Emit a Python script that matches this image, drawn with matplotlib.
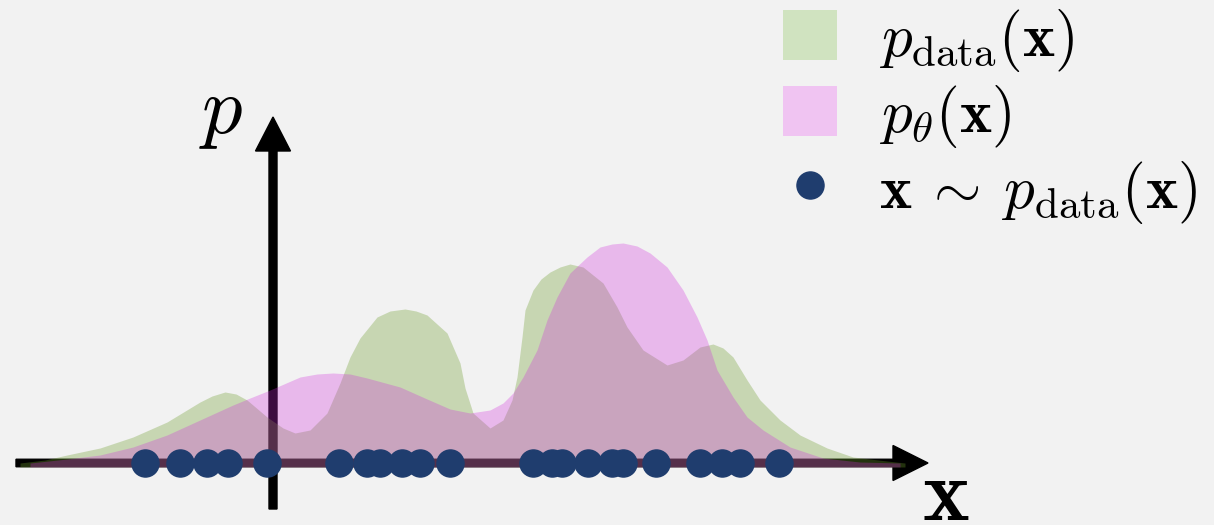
import numpy as np
import matplotlib.pyplot as plt
from matplotlib.patches import Patch
from matplotlib.lines import Line2D

plt.rcParams['mathtext.fontset'] = 'cm'

# densities (x relative to the p axis, height above the x axis)
green_x = [-253, -228, -206, -173, -140, -106, -73, -61, -48, -37, -26, -6, 10, 22, 37,
           54, 67, 77, 87, 104, 117, 132, 143, 154, 174, 187, 192, 200, 217, 230,
           239, 244, 249, 252, 260, 268, 277, 287, 297, 310, 330, 344, 354, 370, 394,
           410, 427, 440, 450, 460, 474, 487, 507, 527, 554, 580, 614, 632]
green_y = [0, 3, 8, 15, 26, 41, 61, 67, 71, 69, 63, 46, 35, 30, 33,
           50, 80, 106, 125, 146, 152, 154, 152, 148, 130, 100, 75, 50, 35, 43,
           63, 86, 126, 153, 173, 184, 191, 196, 199, 196, 180, 156, 136, 113, 98,
           103, 116, 119, 115, 106, 83, 63, 43, 28, 15, 6, 2, 0]

pink_x = [-243, -206, -173, -140, -106, -73, -40, -23, -3, 27, 44, 60, 77, 94, 127,
          154, 177, 197, 217, 230, 240, 250, 264, 274, 284, 297, 314, 327, 339, 350,
          364, 377, 394, 410, 424, 434, 444, 460, 474, 490, 517, 550, 587, 627]
pink_y = [0, 4, 8, 16, 28, 43, 58, 65, 73, 86, 89, 90, 89, 85, 76,
          64, 54, 50, 53, 60, 70, 86, 113, 143, 166, 190, 206, 216, 219, 220,
          217, 210, 196, 173, 146, 123, 93, 66, 46, 33, 16, 5, 1, 0]

# samples on the x axis
samples = [-128, -93, -66, -45, -6, 66, 94, 107, 129, 147, 177, 260, 279, 289,
           315, 339, 350, 383, 427, 449, 467, 506]

labels = [r'$p_{\mathrm{data}}(\mathbf{x})$', r'$p_\theta(\mathbf{x})$',
          r'$\mathbf{x} \:\sim\: p_{\mathrm{data}}(\mathbf{x})$']

bg = '#f2f2f2'
dot_color = '#1f3d6e'

fig = plt.figure(figsize=(12.14, 5.25), dpi=100, facecolor=bg)
ax = fig.add_axes([0, 0, 1, 1])
ax.set_facecolor(bg)
ax.set_xlim(-273, 941)
ax.set_ylim(-62, 463)
ax.axis('off')

# axes arrows
ax.arrow(-257, 0, 912, 0, width=7.5, head_width=35, head_length=35,
         length_includes_head=True, color='black', zorder=1)
ax.arrow(0, -46, 0, 392, width=8, head_width=35, head_length=34,
         length_includes_head=True, color='black', zorder=1)

ax.fill_between(green_x, -4, green_y, color='#6d9c2c', alpha=0.32, lw=0, zorder=2)
ax.fill_between(pink_x, -4, pink_y, color='#d02add', alpha=0.29, lw=0, zorder=3)
ax.plot(samples, np.zeros(len(samples)), 'o', ms=19.5, color=dot_color, zorder=4)

ax.text(-52, 351, r'$p$', fontsize=58, ha='center', va='center')
ax.text(673, -33, r'$\mathbf{x}$', fontsize=64, ha='center', va='center')

handles = [Patch(facecolor='#d0e3c0', edgecolor='none'),
           Patch(facecolor='#f0c4f2', edgecolor='none'),
           Line2D([], [], marker='o', ls='none', ms=19.5, color=dot_color)]
fig.legend(handles, labels, loc='upper left', bbox_to_anchor=(783 / 1214, 1 - 7 / 525),
           frameon=False, fontsize=44, borderpad=0, borderaxespad=0,
           handlelength=0.885, handleheight=0.885, handletextpad=0.68, labelspacing=0.15)

fig.savefig('out.png', dpi=100, facecolor=bg)
